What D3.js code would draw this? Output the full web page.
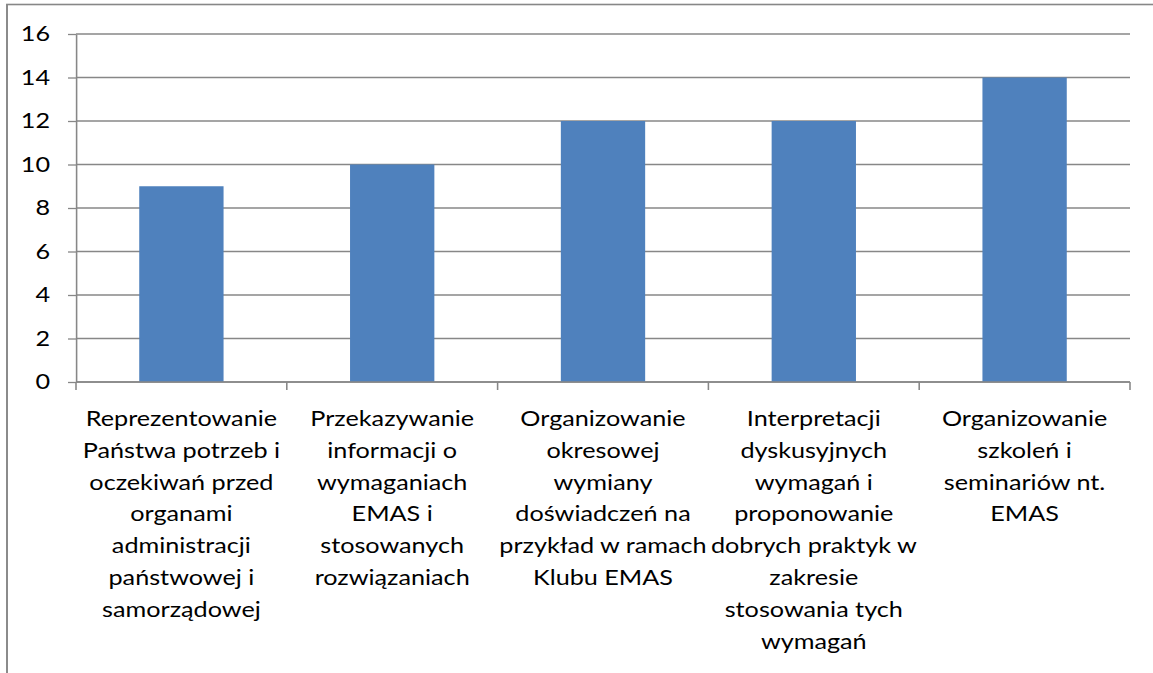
<!DOCTYPE html>
<html>
<head>
<meta charset="utf-8">
<script src="https://cdn.jsdelivr.net/npm/d3@7"></script>
<style>
  html, body { margin: 0; padding: 0; background: #fff; overflow: hidden; }
  svg { display: block; }
</style>
</head>
<body>
<svg id="chart"></svg>
<script>
// values
var labelLines = [
    ["Reprezentowanie", "Państwa potrzeb i", "oczekiwań przed", "organami", "administracji", "państwowej i", "samorządowej"],
    ["Przekazywanie", "informacji o", "wymaganiach", "EMAS i", "stosowanych", "rozwiązaniach"],
    ["Organizowanie", "okresowej", "wymiany", "doświadczeń na", "przykład w ramach", "Klubu EMAS"],
    ["Interpretacji", "dyskusyjnych", "wymagań i", "proponowanie", "dobrych praktyk w", "zakresie", "stosowania tych", "wymagań"],
    ["Organizowanie", "szkoleń i", "seminariów nt.", "EMAS"]
];
var categories = labelLines.map(function(l) { return l.join(" "); });
var values = [9, 10, 12, 12, 14];
var yTicks = [0, 2, 4, 6, 8, 10, 12, 14, 16];

function drawChart() {
    var svgWidth = 1153, svgHeight = 673;
    // the original picture is stretched sideways, so the drawing is too
    var stretch = 1.2;
    var vbWidth = svgWidth / stretch;

    var svg = d3.select("#chart")
        .attr("width", svgWidth)
        .attr("height", svgHeight)
        .attr("viewBox", "0 0 " + vbWidth + " " + svgHeight)
        .attr("preserveAspectRatio", "none");

    var fontFamily = "Lato, 'Open Sans', sans-serif";
    var fontSize = "21px";
    var lineColor = "#878787";

    // outer frame (right and bottom edges fall outside the picture)
    svg.append("rect")
        .attr("x", 7 / stretch)
        .attr("y", 4.5)
        .attr("width", vbWidth + 20)
        .attr("height", svgHeight + 20)
        .attr("fill", "none")
        .attr("stroke", lineColor)
        .attr("stroke-width", 1.6);

    var left = 76 / stretch, right = 1130 / stretch;
    var top = 34, bottom = 382;

    var x = d3.scaleBand()
        .domain(categories)
        .range([left, right])
        .paddingInner(0.6)
        .paddingOuter(0.3);

    var y = d3.scaleLinear()
        .domain([0, 16])
        .range([bottom, top]);

    // gridlines
    svg.append("g")
        .selectAll("line")
        .data(yTicks)
        .enter()
        .append("line")
        .attr("x1", left)
        .attr("x2", right)
        .attr("y1", function(d) { return y(d); })
        .attr("y2", function(d) { return y(d); })
        .attr("stroke", lineColor)
        .attr("stroke-width", 1.3);

    // bars
    svg.append("g")
        .selectAll("rect")
        .data(values)
        .enter()
        .append("rect")
        .attr("x", function(d, i) { return x(categories[i]); })
        .attr("y", function(d) { return y(d); })
        .attr("width", x.bandwidth())
        .attr("height", function(d) { return y(0) - y(d); })
        .attr("fill", "#4F81BD");

    // y axis
    var yAxis = svg.append("g")
        .attr("transform", "translate(" + left + ",0)")
        .call(d3.axisLeft(y).tickValues(yTicks).tickSize(8 / stretch).tickSizeOuter(0).tickPadding(18 / stretch));
    yAxis.select(".domain").attr("stroke", lineColor).attr("stroke-width", 1.3);
    yAxis.selectAll(".tick line").attr("stroke", lineColor).attr("stroke-width", 1.3);
    yAxis.selectAll(".tick text")
        .attr("fill", "#000")
        .style("font-family", fontFamily)
        .style("font-size", fontSize);

    // x axis line and category boundary ticks
    var bounds = d3.range(categories.length + 1).map(function(i) { return left + i * x.step(); });
    var xAxis = svg.append("g");
    xAxis.append("line")
        .attr("x1", left).attr("x2", right)
        .attr("y1", y(0)).attr("y2", y(0))
        .attr("stroke", lineColor).attr("stroke-width", 1.3);
    xAxis.selectAll(".btick")
        .data(bounds)
        .enter()
        .append("line")
        .attr("class", "btick")
        .attr("x1", function(d) { return d; })
        .attr("x2", function(d) { return d; })
        .attr("y1", y(0))
        .attr("y2", y(0) + 8)
        .attr("stroke", lineColor)
        .attr("stroke-width", 1.3);

    // category labels
    var lineHeight = 31.8;
    var labels = xAxis.selectAll(".catlabel")
        .data(labelLines)
        .enter()
        .append("text")
        .attr("class", "catlabel")
        .attr("text-anchor", "middle")
        .attr("fill", "#000")
        .style("font-family", fontFamily)
        .style("font-size", fontSize);
    labels.selectAll("tspan")
        .data(function(d, i) { return d.map(function(t, j) { return { t: t, i: i, j: j }; }); })
        .enter()
        .append("tspan")
        .attr("x", function(d) { return x(categories[d.i]) + x.bandwidth() / 2; })
        .attr("y", function(d) { return 426 + d.j * lineHeight; })
        .text(function(d) { return d.t; });
}
drawChart();
</script>
</body>
</html>
